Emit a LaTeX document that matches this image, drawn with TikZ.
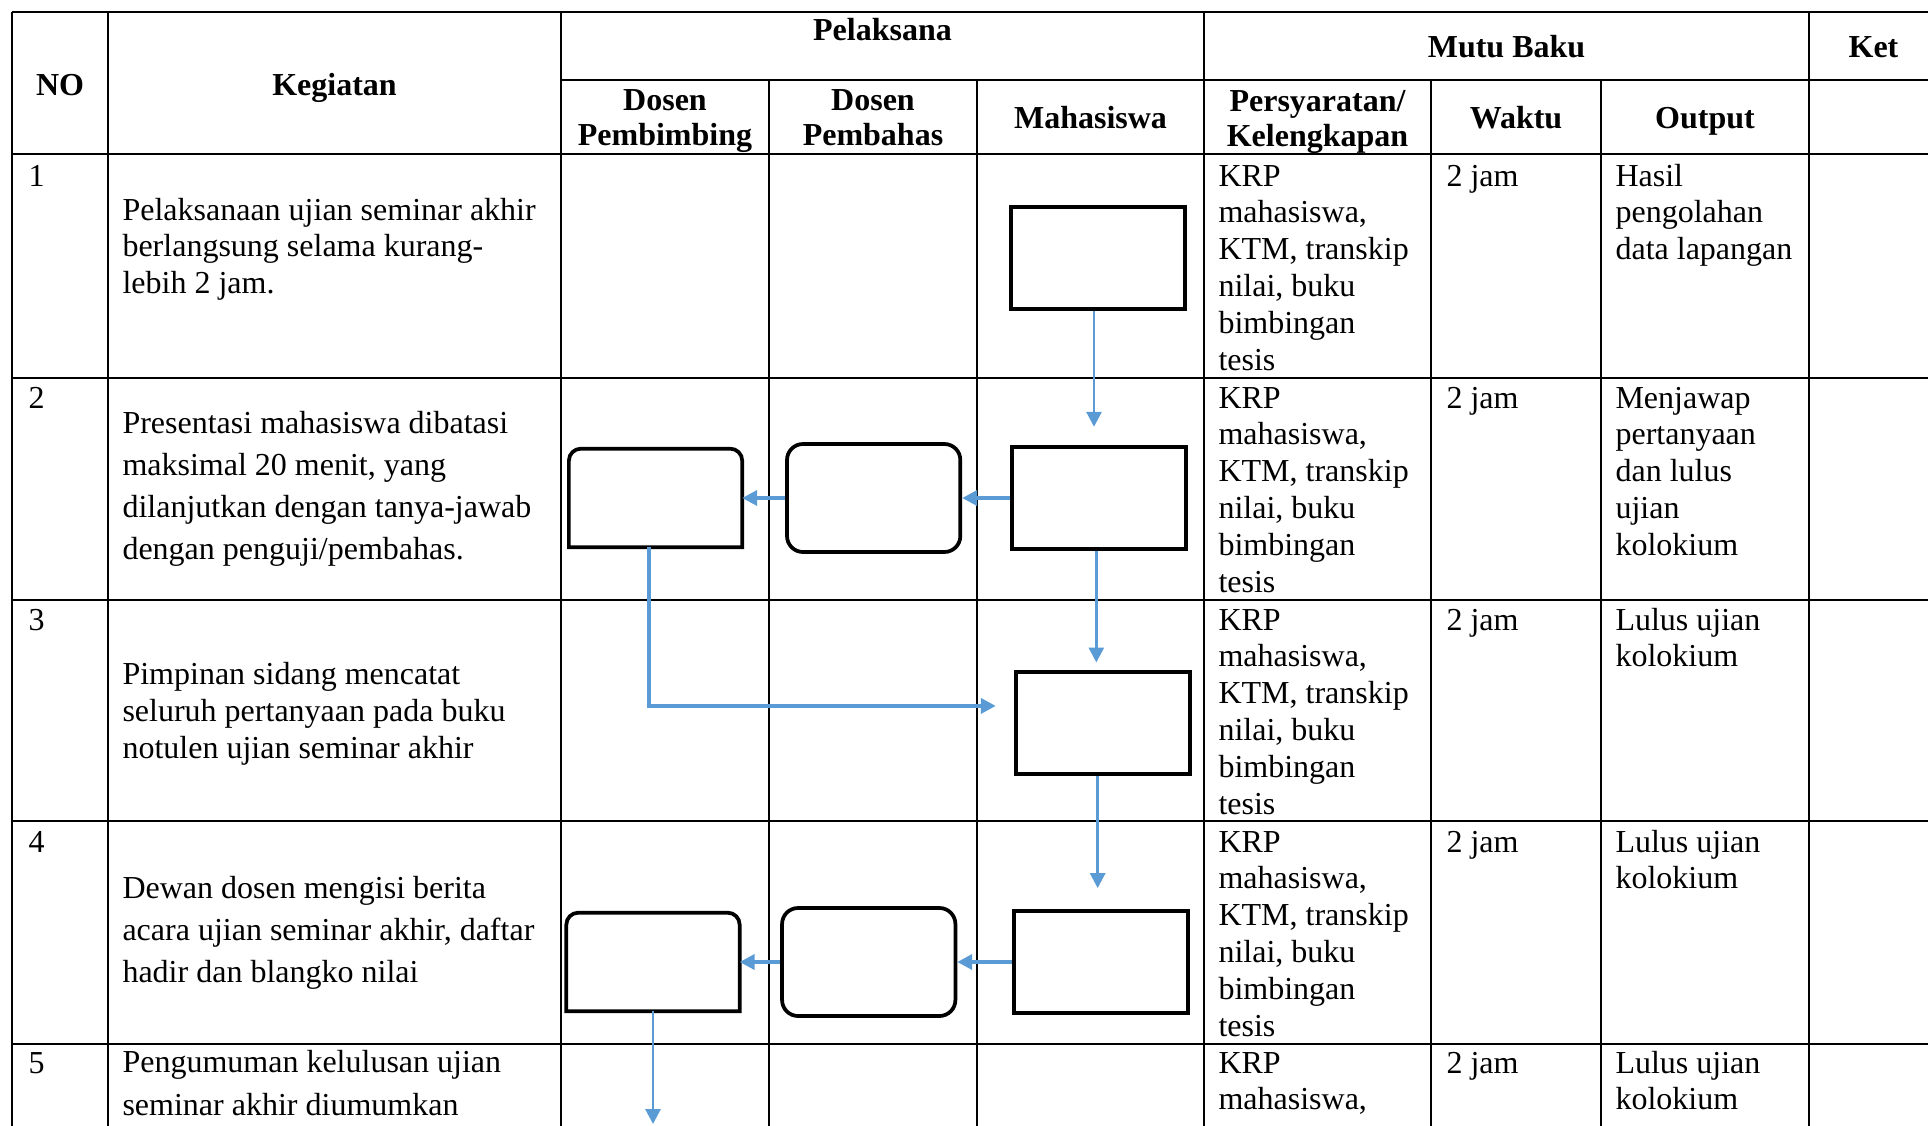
\documentclass[tikz,border=0pt]{standalone}
\usepackage{fontspec}
\setmainfont{Liberation Serif}
\usetikzlibrary{arrows.meta,positioning}
\definecolor{flowblue}{RGB}{91,155,213}

\begin{document}
\begin{tikzpicture}[
    x=0.375pt, y=-0.375pt,
    node distance=18pt,
    tline/.style={line width=0.7pt},
    rline/.style={line width=1pt},
    mbox/.style={rectangle, draw, fill=white, line width=1.4pt, minimum width=65pt, minimum height=38pt, inner sep=0pt},
    rbox/.style={mbox, rounded corners=6pt, minimum height=40.5pt},
    tbox/.style={rectangle, minimum width=65pt, minimum height=37pt, inner sep=0pt, outer sep=0pt},
    flow/.style={draw=flowblue, line width=1.1pt, -{Triangle[length=5.6pt,width=5.6pt]}},
    fatflow/.style={flow, line width=1.5pt},
    head/.style={anchor=base, align=center, inner sep=0pt, font=\fontsize{12}{13.1}\selectfont\bfseries},
    cell/.style={anchor=base west, align=left, inner sep=0pt, font=\fontsize{12}{13.8}\selectfont},
    cellw/.style={cell, font=\fontsize{12}{15.8}\selectfont}
]
\useasboundingbox (0,0) rectangle (1928,1125);
\clip (0,0) rectangle (1928,1125);

% Table
\draw[rline] (12,12) -- (1940,12);
\draw[tline] (561,80) -- (1940,80);
\foreach \y in {154,378,600,821,1044}
    \draw[rline] (12,\y) -- (1940,\y);
\foreach \x in {12,108,561,1204,1809}
    \draw[tline] (\x,12) -- (\x,1130);
\foreach \x in {769,977,1431,1601}
    \draw[tline] (\x,80) -- (\x,1130);

% Header (multi-line texts sit on their last baseline)
\node[head] (no) at (60,95) {NO};
\node[head] (keg) at (334.5,95) {Kegiatan};
\node[head] (pel) at (882.5,40) {Pelaksana};
\node[head] (mutu) at (1506.5,57) {Mutu Baku};
\node[head] (ket) at (1873.5,57) {Ket};
\node[head] (hbimb) at (665,145) {Dosen\\Pembimbing};
\node[head] (hbahas) at (873,145) {Dosen\\Pembahas};
\node[head] (hmhs) at (1090.5,128) {Mahasiswa};
\node[head] (hsyarat) at (1317.5,146) {Persyaratan/\\Kelengkapan};
\node[head] (hwaktu) at (1516,128) {Waktu};
\node[head] (hout) at (1705,128) {Output};

% Rows
\node[cell] (n1) at (28,186) {1};
\node[cell] (n2) at (28,408) {2};
\node[cell] (n3) at (28,630) {3};
\node[cell] (n4) at (28,852) {4};
\node[cell] (n5) at (28,1073) {5};

\node[cell] (k1) at (122,293.6) {Pelaksanaan ujian seminar akhir\\berlangsung selama kurang-\\lebih 2 jam.};
\node[cellw] (k2) at (122,559.4) {Presentasi mahasiswa dibatasi\\maksimal 20 menit, yang\\dilanjutkan dengan tanya-jawab\\dengan penguji/pembahas.};
\node[cell] (k3) at (122,758) {Pimpinan sidang mencatat\\seluruh pertanyaan pada buku\\notulen ujian seminar akhir};
\node[cellw] (k4) at (122,982.3) {Dewan dosen mengisi berita\\acara ujian seminar akhir, daftar\\hadir dan blangko nilai};
\node[cellw] (k5) at (122,1115.1) {Pengumuman kelulusan ujian\\seminar akhir diumumkan};

\foreach \y in {370,592,814,1036} {
    \node[cell] (syarat\y) at (1218,\y) {KRP\\mahasiswa,\\KTM, transkip\\nilai, buku\\bimbingan\\tesis};
}
\node[cell] (syarat5) at (1218,1109.8) {KRP\\mahasiswa,};
\foreach \y in {186,408,630,852,1073} {
    \node[cell] (waktu\y) at (1446,\y) {2 jam};
}
\node[cell] (out1) at (1615,259.6) {Hasil\\pengolahan\\data lapangan};
\node[cell] (out2) at (1615,555.2) {Menjawap\\pertanyaan\\dan lulus\\ujian\\kolokium};
\foreach \y in {666.8,888.8,1109.8} {
    \node[cell] (out\y) at (1615,\y) {Lulus ujian\\kolokium};
}

% Nodes
\node[mbox] (mhs1) at (1098,258) {};
\node[mbox] (mhs2) at (1099,498) {};
\node[rbox, left=18.1pt of mhs2] (bahas2) {};
\node[tbox, left=16.1pt of bahas2] (bimb2) {};
\node[mbox] (mhs3) at (1103,723) {};
\node[mbox] (mhs4) at (1101,962) {};
\node[rbox, left=20.7pt of mhs4] (bahas4) {};
\node[tbox, left=15.2pt of bahas4] (bimb4) {};
\coordinate (exit) at (0,1124);

% top-rounded boxes
\foreach \b in {bimb2,bimb4}
    \draw[line width=1.4pt, rounded corners=4.5pt, line cap=rect]
        (\b.south west) -- (\b.north west) -- (\b.north east) -- (\b.south east)
        (\b.south west) -- (\b.south east);

% Edges
\path [flow, shorten >=7pt] ([xshift=-1.5pt]mhs1.south) -- ([xshift=-1.5pt]mhs1.south |- mhs2.north);
\path [fatflow] (mhs2.west) -- (bahas2.east);
\path [fatflow] (bahas2.west) -- (bimb2.east);
\path [flow, shorten >=3pt] ([xshift=-1pt]mhs2.south) -- ([xshift=-1pt]mhs2.south |- mhs3.north);
\path [fatflow, shorten >=7pt] ([xshift=-2.3pt]bimb2.south) |- ([yshift=6.4pt]mhs3.west);
\path [flow, shorten >=8pt] ([xshift=-2pt]mhs3.south) -- ([xshift=-2pt]mhs3.south |- mhs4.north);
\path [fatflow] (mhs4.west) -- (bahas4.east);
\path [fatflow] (bahas4.west) -- (bimb4.east);
\path [flow] (bimb4.south) -- (bimb4.south |- exit);

\end{tikzpicture}
\end{document}
